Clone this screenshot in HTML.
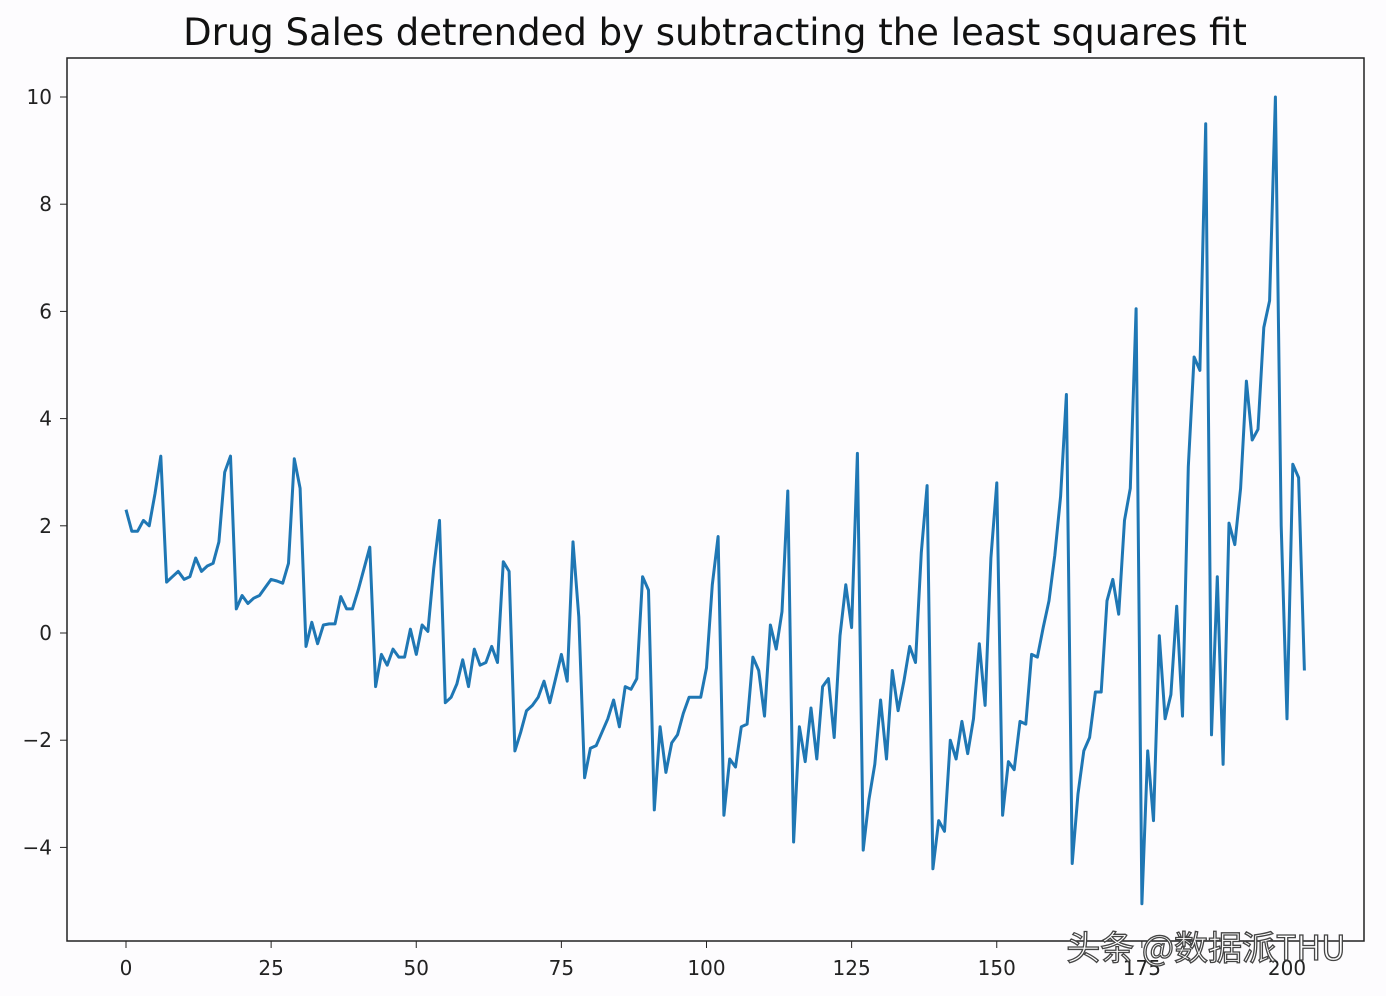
<!DOCTYPE html>
<html><head><meta charset="utf-8"><style>
html,body{margin:0;padding:0;background:#fdfcfe;}
svg{display:block;font-family:"DejaVu Sans","Liberation Sans","Noto Sans CJK SC",sans-serif;}
</style></head><body>
<svg id="chart" width="1386" height="996">
<rect x="0" y="0" width="1386" height="996" fill="#fdfcfe"/>
<text x="715" y="45" text-anchor="middle" font-size="37" fill="#111">Drug Sales detrended by subtracting the least squares fit</text>
<g id="axes"></g>
<path id="line" fill="none" stroke="#1f77b4" stroke-width="3" stroke-linejoin="round"/>
<rect x="67" y="58" width="1297" height="883" fill="none" stroke="#222" stroke-width="1.5"/>
<text x="1206" y="960" text-anchor="middle" font-size="34" fill="#fff" stroke="#444" stroke-width="1.3" font-family="'Noto Sans CJK SC',sans-serif">头条 @数据派THU</text>
</svg>
<script>
const values = [
2.3,1.9,1.9,2.1,2.0,2.6,3.3,
0.95,1.05,1.15,1.0,1.05,1.4,1.15,1.25,1.3,1.7,3.0,3.3,
0.45,0.7,0.55,0.65,0.7,0.85,1.0,0.97,0.93,1.3,3.25,2.7,
-0.25,0.2,-0.2,0.15,0.17,0.17,0.68,0.45,0.45,0.8,1.2,1.6,
-1.0,-0.4,-0.6,-0.3,-0.45,-0.45,0.07,-0.4,0.15,0.03,1.2,2.1,
-1.3,-1.2,-0.95,-0.5,-1.0,-0.3,-0.6,-0.55,-0.25,-0.55,1.33,1.15,
-2.2,-1.85,-1.45,-1.35,-1.2,-0.9,-1.3,-0.85,-0.4,-0.9,1.7,0.3,
-2.7,-2.15,-2.1,-1.85,-1.6,-1.25,-1.75,-1.0,-1.05,-0.85,1.05,0.8,
-3.3,-1.75,-2.6,-2.05,-1.9,-1.5,-1.2,-1.2,-1.2,-0.65,0.9,1.8,
-3.4,-2.35,-2.5,-1.75,-1.7,-0.45,-0.7,-1.55,0.15,-0.3,0.4,2.65,
-3.9,-1.75,-2.4,-1.4,-2.35,-1.0,-0.85,-1.95,-0.05,0.9,0.1,3.35,
-4.05,-3.1,-2.45,-1.25,-2.35,-0.7,-1.45,-0.9,-0.25,-0.55,1.5,2.75,
-4.4,-3.5,-3.7,-2.0,-2.35,-1.65,-2.25,-1.6,-0.2,-1.35,1.4,2.8,
-3.4,-2.4,-2.55,-1.65,-1.7,-0.4,-0.45,0.1,0.6,1.45,2.55,4.45,
-4.3,-3.0,-2.2,-1.95,-1.1,-1.1,0.6,1.0,0.35,2.1,2.7,6.05,
-5.05,-2.2,-3.5,-0.05,-1.6,-1.15,0.5,-1.55,3.1,5.15,4.9,9.5,
-1.9,1.05,-2.45,2.05,1.65,2.7,4.7,3.6,3.8,5.7,6.2,10.0,
2.0,-1.6,3.15,2.9,-0.7
];
const xTicks = [0,25,50,75,100,125,150,175,200];
const yTicks = [-4,-2,0,2,4,6,8,10];
const xScale = v => 126 + v*(1287-126)/200;
const yScale = v => 633 - v*(633-97)/10;
const NS='http://www.w3.org/2000/svg';
const axes=document.getElementById('axes');
xTicks.forEach(t=>{
  const l=document.createElementNS(NS,'line');
  l.setAttribute('x1',xScale(t));l.setAttribute('x2',xScale(t));l.setAttribute('y1',941);l.setAttribute('y2',948);l.setAttribute('stroke','#222');
  
  
  axes.appendChild(l);
  const tx=document.createElementNS(NS,'text');
  tx.setAttribute('x',xScale(t));tx.setAttribute('y',975);tx.setAttribute('text-anchor','middle');tx.setAttribute('font-size','20');tx.setAttribute('fill','#222');
  tx.textContent=t;
  
  
  axes.appendChild(tx);
});
yTicks.forEach(t=>{
  const l=document.createElementNS(NS,'line');
  l.setAttribute('x1',60);l.setAttribute('x2',67);l.setAttribute('y1',yScale(t));l.setAttribute('y2',yScale(t));l.setAttribute('stroke','#222');
  
  
  axes.appendChild(l);
  const tx=document.createElementNS(NS,'text');
  tx.setAttribute('x',52);tx.setAttribute('y',yScale(t)+7);tx.setAttribute('text-anchor','end');tx.setAttribute('font-size','20');tx.setAttribute('fill','#222');
  tx.textContent=(t<0?'\u2212'+(-t):String(t));
  
  
  axes.appendChild(tx);
});
document.getElementById('line').setAttribute('d',values.map((v,i)=>(i?'L':'M')+xScale(i).toFixed(1)+','+yScale(v).toFixed(1)).join(''));
</script>
</body></html>
